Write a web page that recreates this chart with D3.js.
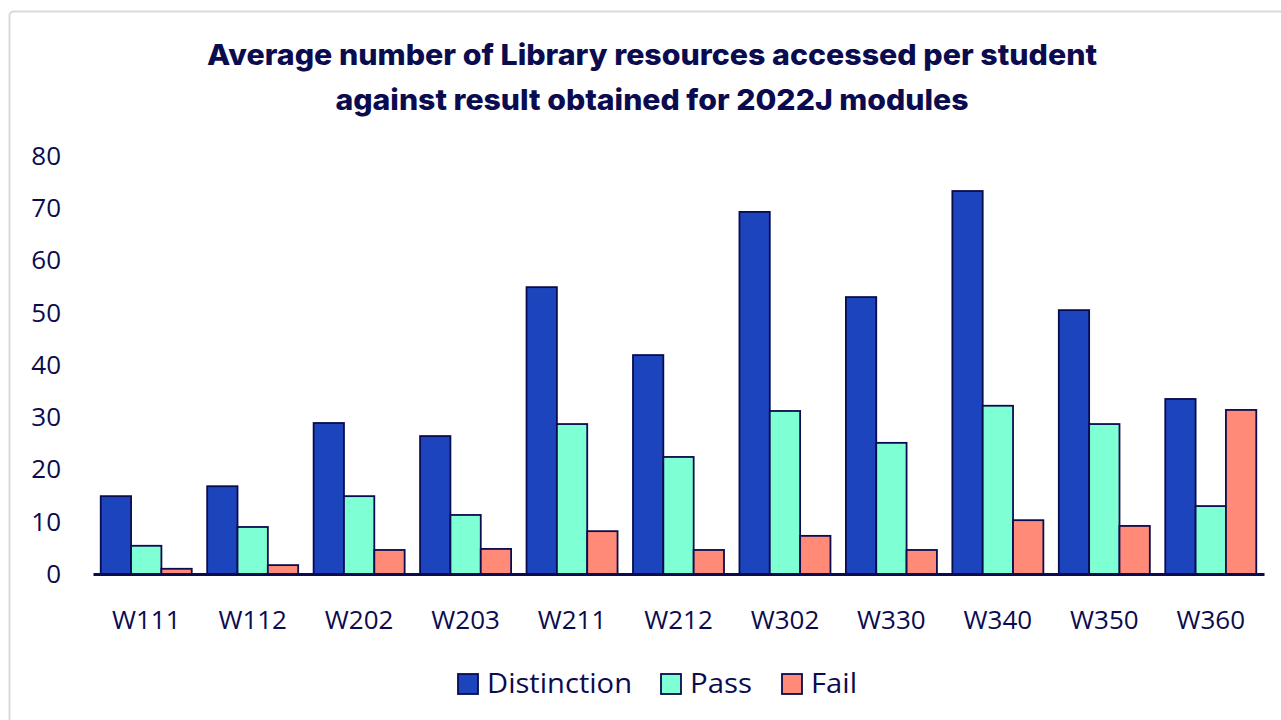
<!DOCTYPE html>
<html><head><meta charset="utf-8">
<script src="https://cdn.jsdelivr.net/npm/d3@7"></script>
<style>
html,body{margin:0;padding:0;background:#fff;}
svg{display:block;font-family:"Open Sans",sans-serif;}
</style></head>
<body>
<svg id="chart" width="1281" height="720"></svg>
<script>
const categories = ["W111","W112","W202","W203","W211","W212","W302","W330","W340","W350","W360"];
const seriesNames = ["Distinction","Pass","Fail"];
const distinction = [14.9,16.8,28.9,26.4,54.9,41.9,69.3,53.0,73.3,50.5,33.5];
const pass = [5.4,9.0,14.9,11.3,28.7,22.4,31.2,25.1,32.2,28.7,13.0];
const fail = [1.0,1.7,4.6,4.8,8.2,4.6,7.3,4.6,10.3,9.2,31.4];
const yTicks = [0,10,20,30,40,50,60,70,80];
const colors = ["#1c45bd","#7fffd4","#ff8a78"];
const titleLines = ["Average number of Library resources accessed per student","against result obtained for 2022J modules"];

const navy = "#0b0b4f";
const svg = d3.select("#chart");

// frame
svg.append("rect").attr("x",9.5).attr("y",11.5).attr("width",1290).attr("height",740)
  .attr("rx",4).attr("fill","none").attr("stroke","#d9d9d9").attr("stroke-width",2);

// title
const titleW = [890,633];
svg.append("g").selectAll("text").data(titleLines).join("text")
  .attr("x",652).attr("y",(d,i)=>65+i*45)
  .attr("text-anchor","middle").attr("fill",navy)
  .attr("font-family","Inter, 'Open Sans', sans-serif")
  .attr("font-weight",800).attr("font-size",29)
  .attr("textLength",(d,i)=>titleW[i]).attr("lengthAdjust","spacingAndGlyphs")
  .text(d=>d);

const x0 = d3.scaleBand().domain(categories).range([93,1264]).paddingInner(0.145).paddingOuter(0.0725);
const x1 = d3.scaleBand().domain(seriesNames).range([0,x0.bandwidth()]);
const y = d3.scaleLinear().domain([0,80]).range([574,156]);

const data = categories.map((c,i)=>({cat:c, vals:[distinction[i],pass[i],fail[i]]}));

// y axis labels
const yAxis = d3.axisLeft(y).tickValues(yTicks).tickSize(0).tickPadding(0);
const gy = svg.append("g").attr("transform","translate(61,0)").call(yAxis);
gy.select(".domain").remove();
gy.selectAll("text").attr("fill",navy).attr("font-size",26).attr("font-family","'Open Sans',sans-serif").attr("dy","0.32em");

// bars
const groups = svg.append("g").selectAll("g").data(data).join("g")
  .attr("transform",d=>`translate(${x0(d.cat)},0)`);
groups.selectAll("rect").data(d=>d.vals.map((v,j)=>({k:seriesNames[j],v,j}))).join("rect")
  .attr("x",d=>x1(d.k)).attr("width",x1.bandwidth())
  .attr("y",d=>y(d.v)).attr("height",d=>y(0)-y(d.v))
  .attr("fill",d=>colors[d.j]).attr("stroke",navy).attr("stroke-width",1.8);

// x axis
const xAxis = d3.axisBottom(x0).tickSize(0).tickPadding(0);
const gx = svg.append("g").attr("transform",`translate(0,${y(0)})`).call(xAxis);
gx.select(".domain").attr("stroke",navy).attr("stroke-width",3);
gx.selectAll("text").attr("fill",navy).attr("font-size",26).attr("font-family","'Open Sans',sans-serif").attr("dy","0").attr("y",55);

// legend
const legendX = [458,661,782];
const legendW = [145,62,46];
const lg = svg.append("g").selectAll("g").data(seriesNames).join("g")
  .attr("transform",(d,i)=>`translate(${legendX[i]},674)`);
lg.append("rect").attr("width",20).attr("height",20).attr("fill",(d,i)=>colors[i]).attr("stroke",navy).attr("stroke-width",1.8);
lg.append("text").attr("x",29).attr("y",10).attr("dy","0.35em").attr("fill",navy).attr("font-size",27)
  .attr("textLength",(d,i)=>legendW[i]).attr("lengthAdjust","spacingAndGlyphs")
  .attr("font-family","'Open Sans',sans-serif").text(d=>d);
</script>
</body></html>
